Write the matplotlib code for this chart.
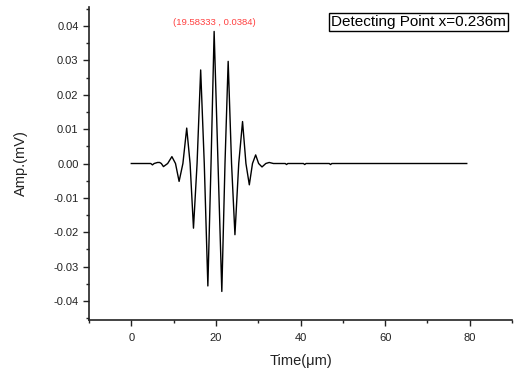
import matplotlib
matplotlib.use("Agg")
import matplotlib.pyplot as plt
from matplotlib.ticker import MultipleLocator

plt.rcParams['font.family'] = ['Liberation Sans', 'DejaVu Sans']

# waveform samples (time in µs, amplitude in mV)
time_us = [0.0, 4.6, 5.0, 5.4, 6.2, 6.7, 7.1, 7.6, 8.6, 9.6, 10.45, 11.3, 12.2,
           13.1, 13.9, 14.7, 15.55, 16.4, 17.25, 18.1, 18.85, 19.58333, 20.5,
           21.4, 22.15, 22.9, 23.7, 24.5, 25.4, 26.3, 27.1, 27.9, 28.65, 29.4,
           30.1, 30.9, 31.8, 32.6, 33.6, 36.4, 36.7, 37.0, 40.7, 41.0, 41.3,
           46.8, 47.1, 47.4, 79.3]
amp_mV = [0.0, 0.0, -0.0004, 0.0, 0.0003, 0.0003, 0.0, -0.0009, 0.0, 0.0020,
          0.0, -0.0052, 0.0, 0.0103, 0.0, -0.0188, 0.0, 0.0272, 0.0, -0.0356,
          0.0, 0.0384, 0.0, -0.0372, 0.0, 0.0297, 0.0, -0.0207, 0.0, 0.0122,
          0.0, -0.0062, 0.0, 0.0025, 0.0, -0.0010, 0.0, 0.0003, 0.0, 0.0,
          -0.0003, 0.0, 0.0, -0.0003, 0.0, 0.0, -0.0003, 0.0, 0.0]

peak_t = 19.58333
peak_amp = 0.0384
peak_label = "(19.58333 , 0.0384)"
legend_text = "Detecting Point x=0.236m"
x_label = "Time(μm)"
y_label = "Amp.(mV)"

fig = plt.figure(figsize=(5.15, 3.69), dpi=100)
ax = fig.add_axes([0.1728, 0.1328, 0.8214, 0.8482])

ax.plot(time_us, amp_mV, color='black', lw=1.0)

ax.set_xlim(-10, 90)
ax.set_ylim(-0.0455, 0.0455)
ax.xaxis.set_major_locator(MultipleLocator(20))
ax.xaxis.set_minor_locator(MultipleLocator(10))
ax.yaxis.set_major_locator(MultipleLocator(0.01))
ax.yaxis.set_minor_locator(MultipleLocator(0.005))
ax.yaxis.set_major_formatter(matplotlib.ticker.FuncFormatter(lambda v, p: f"{v:.2f}"))

for s in ['top', 'right']:
    ax.spines[s].set_visible(False)
for s in ['left', 'bottom']:
    ax.spines[s].set_linewidth(1.2)
    ax.spines[s].set_color('#222222')

ax.tick_params(which='major', direction='out', length=4.5, width=1.0,
               labelsize=8, pad=3, colors='#222222')
ax.tick_params(which='minor', direction='out', length=2.5, width=1.0, colors='#222222')
ax.tick_params(axis='x', pad=5)

ax.set_xlabel(x_label, fontsize=10.5, color='#222222')
ax.set_ylabel(y_label, fontsize=10.5, color='#222222')
ax.xaxis.set_label_coords(0.5, -0.11)
ax.yaxis.set_label_coords(-0.145, 0.5)

ax.annotate(peak_label, xy=(peak_t, peak_amp), xytext=(0, 3),
            textcoords='offset points', ha='center', va='bottom',
            fontsize=6.8, color='#ff4040')

ax.text(0.985, 0.975, legend_text, transform=ax.transAxes, ha='right', va='top',
        fontsize=11, color='black',
        bbox=dict(boxstyle='square,pad=0.12', fc='white', ec='black', lw=1.0))

fig.savefig('out.png', dpi=100)
